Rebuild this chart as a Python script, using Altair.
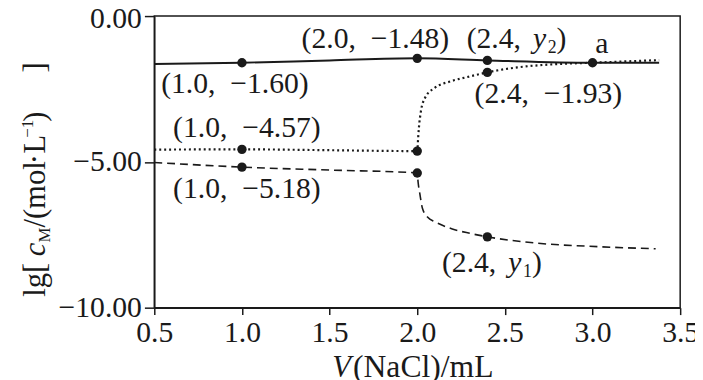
import altair as alt
import pandas as pd

FONT = "Liberation Serif, DejaVu Serif, serif"
INK = "#1a1a1a"

# ---- data ----
solid_x = [0.5, 1.0, 1.5, 2.0, 2.4, 3.0, 3.38]
solid_y = [-1.64, -1.60, -1.52, -1.45, -1.52, -1.60, -1.60]

dotted_x = [0.5, 1.0, 1.5, 2.0, 2.005, 2.01, 2.02, 2.045, 2.10, 2.19, 2.30, 2.40, 2.57, 2.76, 3.0, 3.38]
dotted_y = [-4.58, -4.57, -4.60, -4.63, -4.20, -3.80, -3.30, -2.80, -2.46, -2.24, -2.07, -1.93, -1.76, -1.66, -1.60, -1.51]

dashed_x = [0.5, 1.0, 1.5, 2.0, 2.005, 2.015, 2.03, 2.06, 2.10, 2.20, 2.30, 2.40, 2.67, 3.04, 3.36]
dashed_y = [-5.02, -5.18, -5.28, -5.38, -5.70, -6.10, -6.60, -6.90, -7.05, -7.30, -7.45, -7.57, -7.78, -7.91, -7.98]

point_x = [1.0, 2.0, 2.4, 3.0, 1.0, 2.0, 2.4, 1.0, 2.0, 2.4]
point_y = [-1.60, -1.45, -1.52, -1.60, -4.57, -4.63, -1.93, -5.18, -5.38, -7.57]

label_text = ["(1.0,\u2002\u22121.60)", "(2.0,\u2002\u22121.48)", "(1.0,\u2002\u22124.57)",
              "(1.0,\u2002\u22125.18)", "(2.4,\u2002\u22121.93)", "a"]
label_x = [0.539, 1.340, 0.607, 0.607, 2.327, 3.015]
label_y = [-2.64, -1.11, -4.16, -6.24, -2.97, -1.28]

sub_prefix = ["(2.4,\u2002", "(2.4,\u2002"]
sub_var = ["y", "y"]
sub_index = ["2", "1"]
sub_x = [2.282, 2.141]
sub_y = [-1.11, -8.78]

x_ticks = [0.5, 1.0, 1.5, 2.0, 2.5, 3.0, 3.5]
y_ticks = [0.0, -5.0, -10.0]

# ---- tables ----
lines = pd.concat([
    pd.DataFrame({"x": solid_x, "y": solid_y, "s": "solid"}),
    pd.DataFrame({"x": dotted_x, "y": dotted_y, "s": "dotted"}),
    pd.DataFrame({"x": dashed_x, "y": dashed_y, "s": "dashed"}),
])
pts = pd.DataFrame({"x": point_x, "y": point_y})
labels = pd.DataFrame({"x": label_x, "y": label_y, "t": label_text})
subs = pd.DataFrame({"x": sub_x, "y": sub_y, "p": sub_prefix, "v": sub_var, "i": sub_index})
one = pd.DataFrame({"k": [0]})

xs = alt.Scale(domain=[0.5, 3.5], nice=False, zero=False)
ys = alt.Scale(domain=[-10, 0], nice=False, zero=False)

X = alt.X("x:Q", scale=xs, axis=alt.Axis(values=x_ticks, format=".1f", title=None, grid=False,
                                         tickSize=7, labelPadding=3, labelFontSize=30,
                                         labelFlush=False))
Y = alt.Y("y:Q", scale=ys, axis=alt.Axis(values=y_ticks, format=".2f", title=None, grid=False,
                                         tickSize=10, labelPadding=3, labelFontSize=30,
                                         labelFlush=False,
                                         labelOffset=alt.condition("datum.value == 0",
                                                                   alt.value(3), alt.value(0))))
Xp = alt.X("x:Q", scale=xs)
Yp = alt.Y("y:Q", scale=ys)


def line_layer(name, dash, width):
    kw = dict(color=INK, strokeWidth=width, interpolate="monotone")
    if dash:
        kw["strokeDash"] = dash
    return alt.Chart(lines).transform_filter(alt.datum.s == name).mark_line(**kw).encode(x=X, y=Y)


solid = line_layer("solid", None, 2)
dotted = line_layer("dotted", [2, 3], 2.2)
dashed = line_layer("dashed", [8, 5], 1.6)

points = alt.Chart(pts).mark_circle(size=90, color=INK, opacity=1).encode(x=Xp, y=Yp)

lab = alt.Chart(labels).mark_text(font=FONT, fontSize=30, align="left", baseline="alphabetic",
                                  color=INK).encode(x=Xp, y=Yp, text="t:N")

sub_common = dict(font=FONT, color=INK, baseline="alphabetic", align="left")
s1 = alt.Chart(subs).mark_text(fontSize=30, **sub_common).encode(x=Xp, y=Yp, text="p:N")
s2 = alt.Chart(subs).mark_text(fontSize=30, fontStyle="italic", dx=67, **sub_common).encode(x=Xp, y=Yp, text="v:N")
s3 = alt.Chart(subs).mark_text(fontSize=18, dx=82, dy=5, **sub_common).encode(x=Xp, y=Yp, text="i:N")
s4 = alt.Chart(subs).mark_text(fontSize=30, dx=91, **sub_common).encode(x=Xp, y=Yp, text=alt.value(")"))


def piece(txt, px, py, size=30, style="normal", angle=0):
    kw = dict(text=txt, font=FONT, fontSize=size, fontStyle=style, color=INK,
              align="left", baseline="alphabetic")
    if angle:
        kw["angle"] = angle
    return alt.Chart(one).mark_text(**kw).encode(x=alt.value(px), y=alt.value(py))


# x title  V(NaCl)/mL
xt = [piece("V", 180, 365, 31, "italic"), piece("(NaCl)/mL", 201, 365, 32)]
# y title  lg[cM/(mol·L-1)]
yt = [
    piece("lg[", -111, 284, 31, angle=270),
    piece("c", -111, 243, 31, "italic", angle=270),
    piece("M", -106, 229, 17, angle=270),
    piece("/(mol", -111, 214, 31, angle=270),
    piece("\u00b7", -111, 150, 31, angle=270),
    piece("L", -111, 139, 31, angle=270),
    piece("\u22121", -123, 123, 17, angle=270),
    piece(")", -111, 107, 31, angle=270),
    piece("]", -111, 57, 31, angle=270),
]

chart = alt.layer(solid, dotted, dashed, points, lab, s1, s2, s3, s4, *xt, *yt).properties(
    width=532, height=295,
    autosize=alt.AutoSizeParams(type="none"),
    padding={"left": 148, "top": 6, "right": 15, "bottom": 71},
    background="white",
).configure_view(stroke=INK, strokeWidth=1.5).configure_axis(
    labelFont=FONT, labelColor=INK, tickColor=INK, domainColor=INK, domainWidth=1.5,
    tickWidth=1.5,
)

chart.save("out.html", embed_options={"renderer": "svg", "actions": False})
